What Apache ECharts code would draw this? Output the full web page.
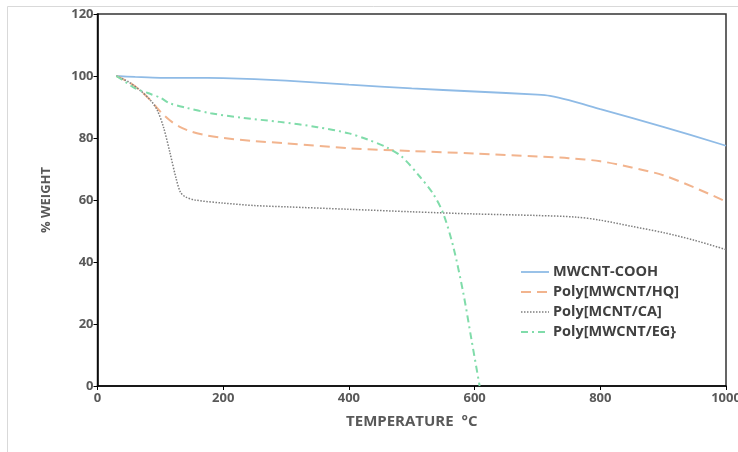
<!DOCTYPE html>
<html><head><meta charset="utf-8">
<script src="https://cdn.jsdelivr.net/npm/echarts@6/dist/echarts.min.js"></script>
<style>html,body{margin:0;padding:0;background:#fff}#c{width:738px;height:452px}</style>
</head><body><div id="c"></div>
<script>
const xTicks = [0, 200, 400, 600, 800, 1000];
const yTicks = [0, 20, 40, 60, 80, 100, 120];
const seriesNames = ['MWCNT-COOH', 'Poly[MWCNT/HQ]', 'Poly[MCNT/CA]', 'Poly[MWCNT/EG}'];

const coohT = [30, 60, 100, 150, 200, 250, 300, 400, 500, 600, 700, 720, 750, 800, 900, 1000];
const coohW = [100, 99.7, 99.4, 99.4, 99.3, 99, 98.5, 97.2, 96, 95, 94, 93.6, 92.2, 89.3, 83.6, 77.5];

const hqT = [30, 50, 70, 85, 100, 115, 130, 150, 175, 200, 250, 300, 400, 500, 600, 700, 750, 800, 850, 900, 950, 1000];
const hqW = [100, 98, 95, 92, 88.5, 85.7, 83.7, 82, 80.8, 80, 79, 78.3, 76.7, 75.8, 75, 74, 73.5, 72.5, 70.5, 68, 64, 59.5];

const caT = [30, 50, 70, 85, 95, 105, 115, 125, 132, 140, 155, 200, 250, 300, 400, 500, 600, 700, 760, 800, 850, 900, 950, 1000];
const caW = [100, 98, 95, 92, 89, 83.5, 75.5, 67, 62.5, 61, 60, 59, 58.2, 57.8, 57, 56.2, 55.5, 55, 54.5, 53.5, 51.5, 49.5, 47, 44];

const egT = [30, 45, 60, 80, 100, 115, 140, 180, 230, 290, 350, 400, 430, 460, 484, 513, 534, 550, 566, 582, 595, 608];
const egW = [100, 98, 96, 94.5, 93, 91.2, 89.8, 88, 86.5, 85.2, 83.5, 81.5, 79.5, 77, 74, 67.5, 62, 55.7, 45, 30, 15, 0];

const colors = ['#8fbbe6', '#f2b48e', '#7f7f7f', '#80dcaa'];
const widths = [1.8, 2, 1.5, 2];
const dashes = ['solid', [10, 6], [1.5, 1.5], [7, 4, 2, 4]];

const pairs = (t, w) => t.map((v, i) => [v, w[i]]);
const txt = '#595959';
const font = 'Open Sans';

const legendGraphics = [];
seriesNames.forEach((n, i) => {
  const y = 272 + i * 20;
  legendGraphics.push({type: 'line', shape: {x1: 521, y1: y, x2: 549, y2: y},
    style: {stroke: colors[i], lineWidth: widths[i], lineDash: dashes[i] === 'solid' ? null : dashes[i]}});
  legendGraphics.push({type: 'text', x: 553, y: y, style: {text: n, fill: '#404040', font: 'bold 14.5px "Open Sans"', verticalAlign: 'middle', align: 'left'}});
});

const chart = echarts.init(document.getElementById('c'), null, {renderer: 'canvas'});
chart.setOption({
  animation: false,
  backgroundColor: '#fff',
  graphic: [{type: 'rect', shape: {x: 7.5, y: 6.5, width: 740, height: 450}, style: {fill: 'none', stroke: '#d9d9d9', lineWidth: 1}, z: -1}].concat(legendGraphics),
  grid: {left: 97.5, right: 12, top: 14, bottom: 66, show: true, borderColor: '#333', borderWidth: 1.5, backgroundColor: 'transparent', outerBoundsMode: 'none', containLabel: false},
  xAxis: {
    type: 'value', min: 0, max: 1000, interval: 200,
    name: 'TEMPERATURE  °C', nameLocation: 'middle', nameGap: 28,
    nameTextStyle: {fontFamily: font, fontWeight: 'bold', fontSize: 15, color: txt},
    axisLine: {show: true, lineStyle: {color: '#000', width: 1.5}},
    axisTick: {show: true, length: 4, lineStyle: {color: '#000'}},
    axisLabel: {fontFamily: font, fontWeight: 'bold', fontSize: 13, color: txt, margin: 6, hideOverlap: false,
      formatter: v => xTicks.includes(v) ? String(v) : ''},
    splitLine: {show: false}
  },
  yAxis: {
    type: 'value', min: 0, max: 120, interval: 20,
    name: '% WEIGHT', nameLocation: 'middle', nameGap: 45, nameRotate: 90,
    nameTextStyle: {fontFamily: font, fontWeight: 'bold', fontSize: 13, color: txt},
    axisLine: {show: true, lineStyle: {color: '#000', width: 1.5}},
    axisTick: {show: true, length: 4, lineStyle: {color: '#000'}},
    axisLabel: {fontFamily: font, fontWeight: 'bold', fontSize: 13, color: txt, margin: 4,
      formatter: v => yTicks.includes(v) ? String(v) : ''},
    splitLine: {show: false}
  },
  series: [
    {name: seriesNames[0], type: 'line', data: pairs(coohT, coohW)},
    {name: seriesNames[1], type: 'line', data: pairs(hqT, hqW)},
    {name: seriesNames[2], type: 'line', data: pairs(caT, caW)},
    {name: seriesNames[3], type: 'line', data: pairs(egT, egW)}
  ].map((s, i) => Object.assign(s, {showSymbol: false, symbol: 'none', smooth: 0.3,
     lineStyle: {color: colors[i], width: widths[i], type: dashes[i]}, itemStyle: {color: colors[i]}}))
});
</script></body></html>
